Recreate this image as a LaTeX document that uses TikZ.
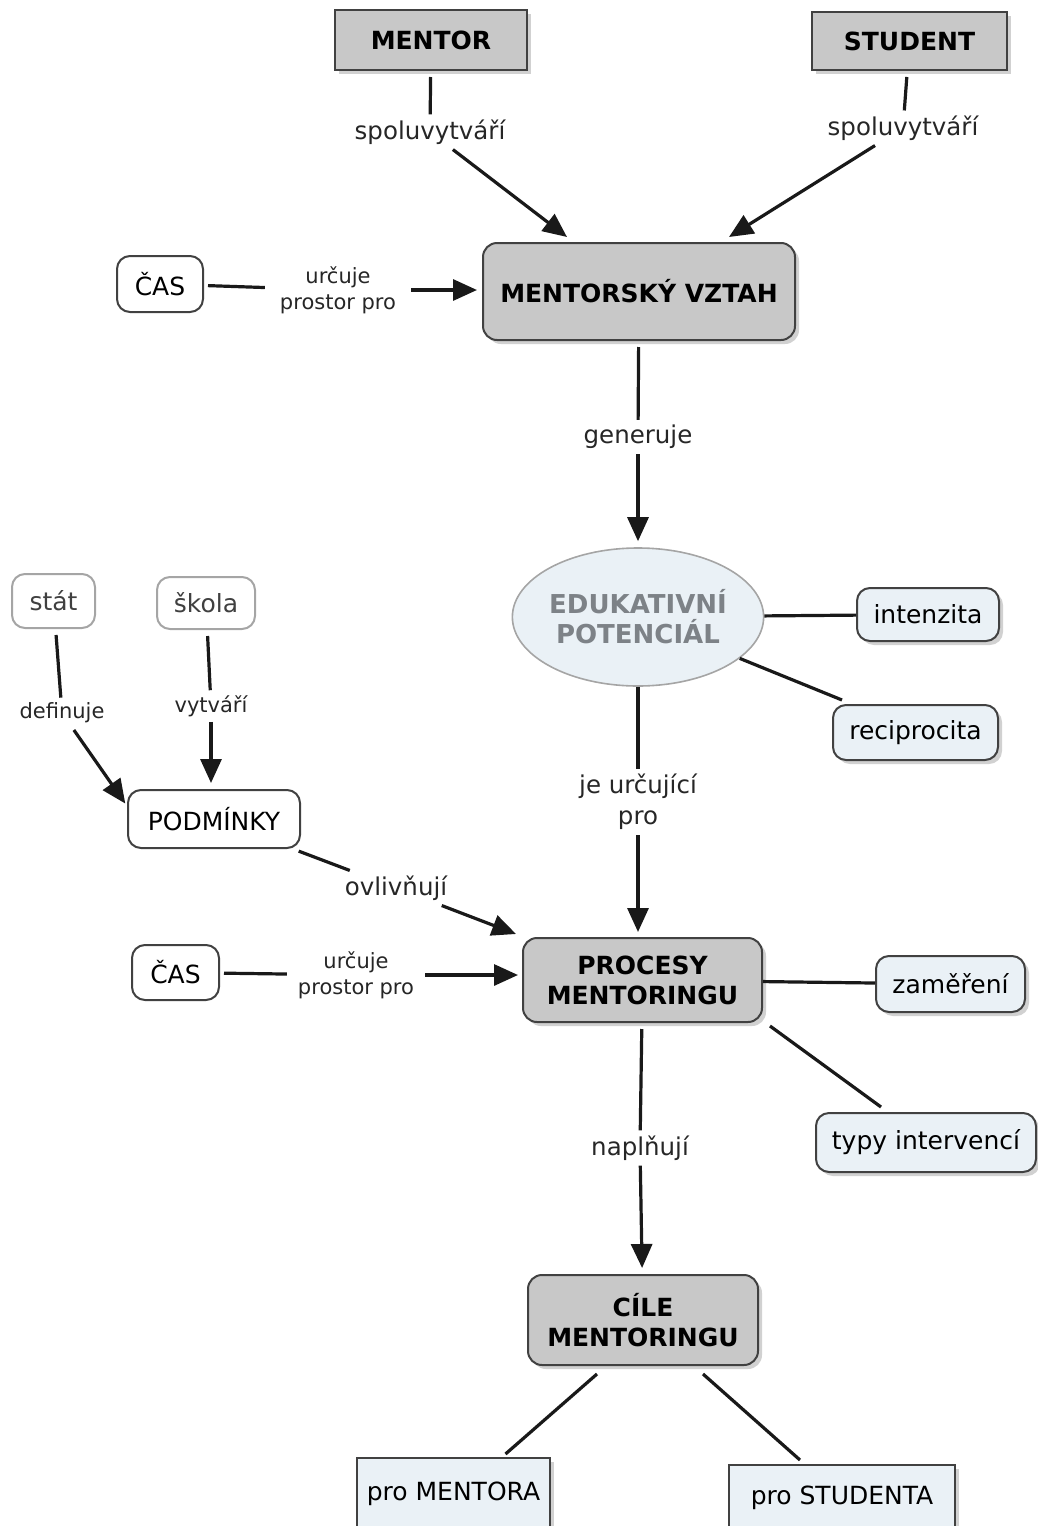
\documentclass[tikz,border=0pt]{standalone}
\usepackage{fontspec}
\setmainfont{DejaVu Sans}
\usetikzlibrary{shapes.geometric,shadows,arrows.meta,calc}
\definecolor{boxgray}{RGB}{200,200,200}
\definecolor{lightblue}{RGB}{234,241,246}
\definecolor{bordergray}{RGB}{65,65,65}
\definecolor{paleborder}{RGB}{165,165,165}
\definecolor{edutext}{RGB}{125,130,135}
\definecolor{linecol}{RGB}{25,25,25}
\tikzset{
  shadowed/.style={drop shadow={shadow xshift=4pt,shadow yshift=-4pt,fill=black,opacity=0.18}},
  base/.style={draw=bordergray,line width=2pt,inner sep=0pt,align=center,
    font=\fontsize{25}{30}\selectfont},
  mainbox/.style={base,fill=boxgray,shadowed,font=\fontsize{25}{30}\selectfont\bfseries},
  whitebox/.style={base,fill=white,rounded corners=13pt},
  palebox/.style={base,fill=white,draw=paleborder,text=black!75,rounded corners=13pt},
  bluebox/.style={base,fill=lightblue,rounded corners=13pt,shadowed},
  lbl/.style={inner sep=5pt,align=center,font=\fontsize{24.5}{31}\selectfont,text=black!85},
  smalllbl/.style={inner sep=5pt,align=center,font=\fontsize{21}{26}\selectfont,text=black!85},
  conn/.style={draw=linecol,line width=3.2pt},
  arr/.style={conn,-{Triangle[length=24pt,width=21pt]}}
}
\begin{document}
\begin{tikzpicture}[x=1pt,y=-1pt]
\useasboundingbox (0,0) rectangle (1038,1526);
% nodes
\node[mainbox,minimum width=192,minimum height=60] (mentor) at (431,40) {MENTOR};
\node[mainbox,minimum width=195,minimum height=58] (student) at (909.5,41) {STUDENT};
\node[mainbox,rounded corners=14pt,minimum width=312,minimum height=97] (mv) at (639,291.5) {MENTORSKÝ VZTAH};
\node[whitebox,minimum width=86,minimum height=56] (cas1) at (160,284) {ČAS};
\node[ellipse,draw=paleborder,line width=1.6pt,fill=lightblue,minimum width=247,minimum height=138,inner sep=0pt,align=center,text=edutext,font=\fontsize{26}{30}\selectfont\bfseries] (edu) at (638,617) {EDUKATIVNÍ\\POTENCIÁL};
\node[bluebox,minimum width=142,minimum height=53] (intenzita) at (928,614.5) {intenzita};
\node[bluebox,minimum width=165,minimum height=55] (reciprocita) at (915.5,732.5) {reciprocita};
\node[palebox,minimum width=83,minimum height=54] (stat) at (53.5,601) {stát};
\node[palebox,minimum width=98,minimum height=52] (skola) at (206,603) {škola};
\node[whitebox,minimum width=172,minimum height=58] (podminky) at (214,819) {PODMÍNKY};
\node[whitebox,minimum width=87,minimum height=55] (cas2) at (175.5,972.5) {ČAS};
\node[mainbox,rounded corners=14pt,minimum width=239,minimum height=84] (procesy) at (642.5,980) {PROCESY\\MENTORINGU};
\node[bluebox,minimum width=149,minimum height=56] (zamereni) at (950.5,984) {zaměření};
\node[bluebox,minimum width=220,minimum height=59] (typy) at (926,1142.5) {typy intervencí};
\node[mainbox,rounded corners=14pt,minimum width=230,minimum height=90] (cile) at (643,1320) {CÍLE\\MENTORINGU};
\node[base,fill=lightblue,shadowed,minimum width=193,minimum height=72] (promentora) at (453.5,1494) {pro MENTORA};
\node[base,fill=lightblue,shadowed,minimum width=226,minimum height=66] (prostudenta) at (842,1498) {pro STUDENTA};
% labels
\node[lbl] (l1) at (430,132) {spoluvytváří};
\node[lbl] (l2) at (903,128) {spoluvytváří};
\node[smalllbl] (l3) at (338,290) {určuje\\prostor pro};
\node[lbl] (l4) at (638,437) {generuje};
\node[lbl] (l5) at (638,802) {je určující\\pro};
\node[smalllbl] (l6) at (62,713) {definuje};
\node[smalllbl] (l7) at (211,706) {vytváří};
\node[lbl] (l8) at (396,888) {ovlivňují};
\node[smalllbl] (l9) at (356,975) {určuje\\prostor pro};
\node[lbl] (l10) at (640,1148) {naplňují};
% connectors
\draw[conn,shorten <=6pt] (mentor) -- (l1);
\draw[arr] (l1) -- ($(mv.north west)+(85,-5)$);
\draw[conn,shorten <=6pt] (student) -- (l2);
\draw[arr] (l2) -- ($(mv.north east)+(-67,-5)$);
\draw[conn,shorten <=4pt,shorten >=10pt] (cas1) -- (l3);
\draw[arr,shorten <=10pt,shorten >=5pt] (l3) -- (mv.west |- l3);
\draw[conn,shorten <=6pt] (mv) -- (l4);
\draw[arr,shorten >=6pt] (l4) -- (edu);
\draw[conn] (edu) -- (l5);
\draw[arr,shorten >=5pt] (l5) -- (l5 |- procesy.north);
\draw[conn] (edu) -- (intenzita);
\draw[conn] (edu) -- ($(reciprocita.north west)+(10,-4)$);
\draw[conn,shorten <=6pt] (stat) -- (l6);
\draw[arr,shorten <=2pt,shorten >=3pt] (l6) -- ($(podminky.west)+(0,-13)$);
\draw[conn,shorten <=6pt] (skola) -- (l7);
\draw[arr,shorten >=6pt] (l7) -- (l7 |- podminky.north);
\draw[conn,shorten <=6pt] (podminky) -- (l8);
\draw[arr] (l8) -- ($(procesy.north west)+(-6,-3)$);
\draw[conn,shorten <=4pt,shorten >=6pt] (cas2) -- (l9);
\draw[arr,shorten <=6pt,shorten >=4pt] (l9) -- (procesy.west |- l9);
\draw[conn] (procesy) -- (zamereni);
\draw[conn] ($(procesy.south east)+(7,3)$) -- ($(typy.north west)+(66,-5)$);
\draw[conn,shorten <=6pt] (procesy) -- (l10);
\draw[arr,shorten >=6pt] (l10) -- (cile);
\draw[conn] ($(cile.south)+(-46,8)$) -- ($(promentora.north)+(52,-3)$);
\draw[conn] ($(cile.south)+(60,8)$) -- ($(prostudenta.north)+(-42,-4)$);
\end{tikzpicture}
\end{document}
